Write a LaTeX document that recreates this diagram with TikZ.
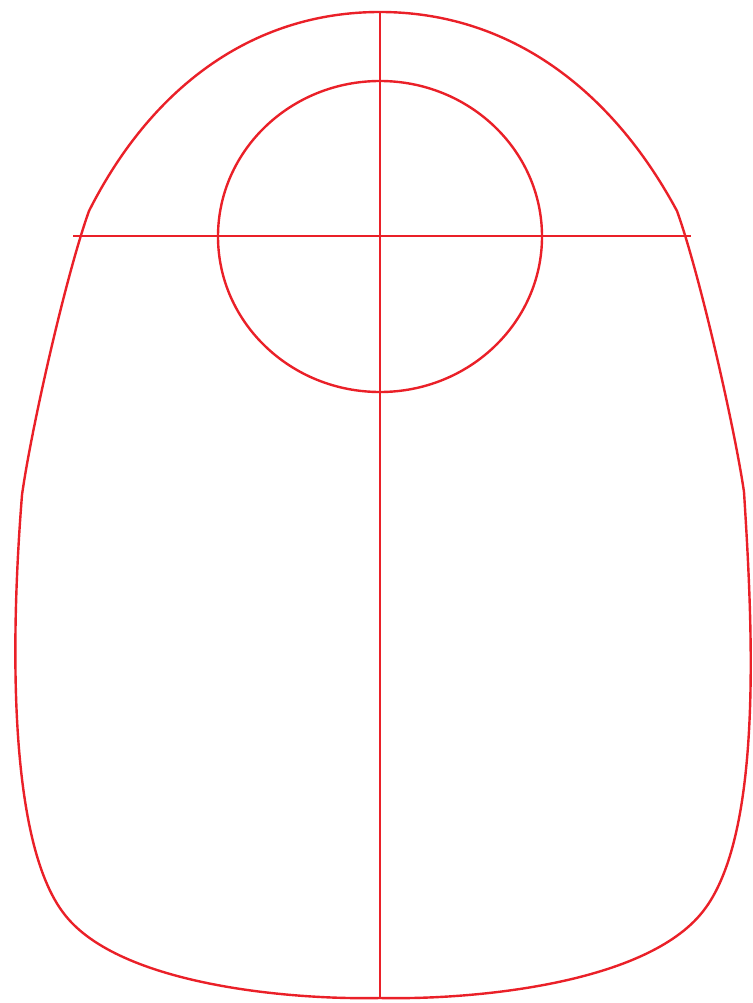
\documentclass[tikz,border=0pt]{standalone}
\usetikzlibrary{shapes.geometric}
\begin{document}
\begin{tikzpicture}[x=1pt,y=-1pt,line width=2.4pt]
\definecolor{rd}{RGB}{234,32,40}
\useasboundingbox (0,0) rectangle (752,1003);
\coordinate (top) at (380,12);
\coordinate (bot) at (380,998);
\coordinate (hl) at (73,236);
\coordinate (hr) at (691,236);
\draw[rd] (89,211) .. controls (150,90) and (250,12) .. (top)
  .. controls (510,12) and (612,90) .. (677,211)
  .. controls (700,275) and (735,430) .. (744,492)
  .. controls (752,620) and (765,840) .. (700,915)
  .. controls (640,985) and (470,1000) .. (bot)
  .. controls (290,1000) and (120,985) .. (65,915)
  .. controls (5,840) and (12,620) .. (22,495)
  .. controls (31,430) and (66,275) .. (89,211) -- cycle;
\draw[rd] (top) -- (bot);
\draw[rd] (hl) -- (hr);
\node[draw=rd,line width=2.4pt,ellipse,minimum width=324pt,minimum height=311pt,inner sep=0pt] (c) at (380,236.5) {};
\end{tikzpicture}
\end{document}
